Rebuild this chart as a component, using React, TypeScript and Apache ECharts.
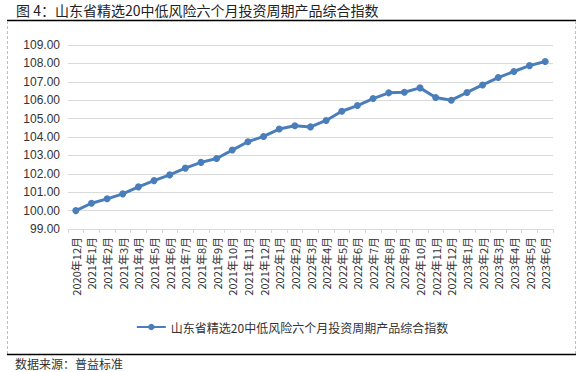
import React, { useEffect, useRef } from "react";
import * as echarts from "echarts";

const TITLE = "图 4：山东省精选20中低风险六个月投资周期产品综合指数";
const SERIES_NAME = "山东省精选20中低风险六个月投资周期产品综合指数";
const SOURCE = "数据来源：普益标准";

const categories = [
  "2020年12月",
  "2021年1月", "2021年2月", "2021年3月", "2021年4月", "2021年5月", "2021年6月",
  "2021年7月", "2021年8月", "2021年9月", "2021年10月", "2021年11月", "2021年12月",
  "2022年1月", "2022年2月", "2022年3月", "2022年4月", "2022年5月", "2022年6月",
  "2022年7月", "2022年8月", "2022年9月", "2022年10月", "2022年11月", "2022年12月",
  "2023年1月", "2023年2月", "2023年3月", "2023年4月", "2023年5月", "2023年6月",
];

const values = [
  100.0, 100.4, 100.64, 100.91, 101.29, 101.63, 101.94, 102.31, 102.62, 102.83,
  103.29, 103.74, 104.03, 104.43, 104.61, 104.55, 104.9, 105.4, 105.71, 106.09,
  106.4, 106.43, 106.67, 106.15, 106.0, 106.42, 106.83, 107.23, 107.56, 107.88,
  108.1,
];

const yMin = 99;
const yMax = 109;
const yInterval = 1;

export default function App() {
  const ref = useRef<HTMLDivElement>(null);

  useEffect(() => {
    document.body.style.margin = "0";
    if (!ref.current) return;
    const chart = echarts.init(ref.current, undefined, { renderer: "svg" });
    const cjk = "'Noto Sans CJK SC', 'Liberation Sans', sans-serif";
    chart.setOption({
      animation: false,
      backgroundColor: "#ffffff",
      grid: { left: 68, right: 31, top: 45, height: 184, containLabel: false },
      legend: {
        show: true,
        left: "center",
        top: 316,
        itemWidth: 29,
        itemHeight: 8,
        icon: undefined,
        textStyle: { fontSize: 12, color: "#333", fontFamily: cjk },
        data: [SERIES_NAME],
      },
      xAxis: {
        type: "category",
        data: categories,
        boundaryGap: true,
        axisLine: { show: true, lineStyle: { color: "#d9d9d9", width: 1 } },
        axisTick: { show: true, length: 4, lineStyle: { color: "#d9d9d9" } },
        axisLabel: {
          rotate: 90,
          interval: 0,
          margin: 8,
          fontSize: 11,
          color: "#333",
          fontFamily: cjk,
        },
        splitLine: { show: false },
      },
      yAxis: {
        type: "value",
        min: yMin,
        max: yMax,
        interval: yInterval,
        axisLine: { show: false },
        axisTick: { show: false },
        axisLabel: {
          margin: 8,
          fontSize: 12,
          color: "#333",
          fontFamily: "'Liberation Sans', sans-serif",
          formatter: (v: number) => v.toFixed(2),
        },
        splitLine: { show: true, lineStyle: { color: "#d9d9d9", width: 1 } },
      },
      series: [
        {
          name: SERIES_NAME,
          type: "line",
          data: values,
          symbol: "circle",
          symbolSize: 7,
          lineStyle: { color: "#4a7ebb", width: 3 },
          itemStyle: { color: "#4a7ebb" },
        },
      ],
      graphic: [
        {
          type: "text",
          left: 16,
          top: 3,
          style: {
            text: TITLE,
            fontSize: 14,
            fill: "#222",
            fontFamily: cjk,
          },
        },
        {
          type: "line",
          shape: { x1: 7, y1: 20.5, x2: 576, y2: 20.5 },
          style: { stroke: "#000", lineWidth: 1.5 },
        },
        {
          type: "line",
          shape: { x1: 7.5, y1: 21, x2: 7.5, y2: 354 },
          style: { stroke: "#c0c0c0", lineWidth: 1, lineDash: [3, 2] },
        },
        {
          type: "line",
          shape: { x1: 575.5, y1: 21, x2: 575.5, y2: 354 },
          style: { stroke: "#c0c0c0", lineWidth: 1, lineDash: [3, 2] },
        },
        {
          type: "line",
          shape: { x1: 7, y1: 354.5, x2: 576, y2: 354.5 },
          style: { stroke: "#000", lineWidth: 1.5 },
        },
        {
          type: "text",
          left: 15,
          top: 357,
          style: {
            text: SOURCE,
            fontSize: 12,
            fill: "#333",
            fontFamily: cjk,
          },
        },
      ],
    });
    return () => chart.dispose();
  }, []);

  return <div ref={ref} style={{ width: 584, height: 372 }} />;
}
